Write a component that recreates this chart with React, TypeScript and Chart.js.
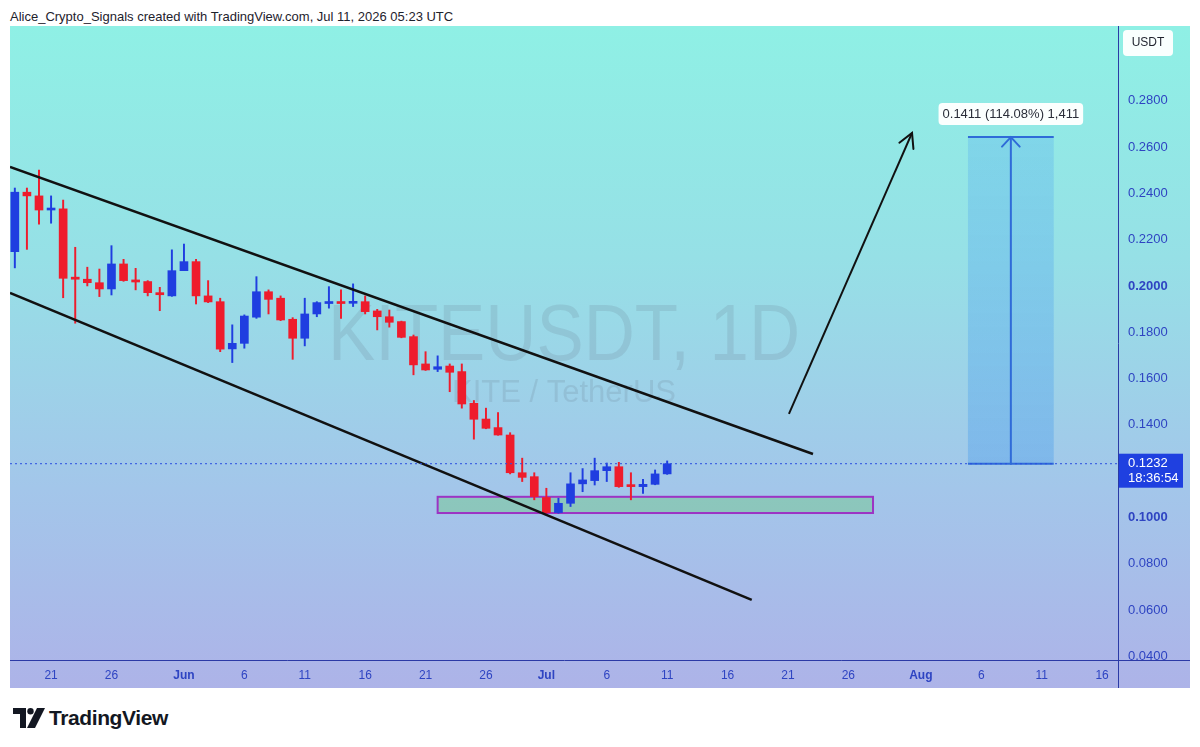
import React, { useEffect, useRef } from 'react';
import { Chart, registerables } from 'chart.js';

Chart.register(...registerables);

const FONT = '"Liberation Sans", Arial, sans-serif';

// Day index: 0 = May 1, 2026
const FIRST_DAY = 17; // May 18
const opens = [0.2148, 0.2405, 0.2389, 0.2328, 0.2333, 0.2038, 0.2029, 0.2014, 0.1987, 0.2095, 0.2026, 0.2019, 0.1971, 0.1957, 0.2066, 0.2105, 0.1957, 0.1932, 0.1728, 0.1752, 0.1865, 0.1975, 0.1947, 0.1856, 0.1774, 0.1879, 0.1924, 0.1932, 0.1925, 0.1932, 0.1892, 0.1867, 0.1846, 0.1781, 0.1663, 0.1640, 0.1654, 0.1630, 0.1493, 0.1425, 0.1388, 0.1356, 0.1193, 0.1176, 0.1086, 0.1021, 0.1061, 0.1145, 0.1159, 0.1202, 0.1219, 0.1139, 0.1133, 0.1143, 0.1188];
const highs = [0.2423, 0.2423, 0.2501, 0.2389, 0.2371, 0.2167, 0.2081, 0.2073, 0.2174, 0.2115, 0.2076, 0.2023, 0.1994, 0.2156, 0.2181, 0.2115, 0.2023, 0.1947, 0.1832, 0.1875, 0.2040, 0.1983, 0.1957, 0.1863, 0.1947, 0.1932, 0.1997, 0.1983, 0.2009, 0.1957, 0.1899, 0.1896, 0.1848, 0.1788, 0.1716, 0.1698, 0.1663, 0.1663, 0.1505, 0.1472, 0.1453, 0.1366, 0.1256, 0.1193, 0.1126, 0.1083, 0.1193, 0.1211, 0.1256, 0.1235, 0.1238, 0.1193, 0.1164, 0.1205, 0.1244];
const lows = [0.2078, 0.2158, 0.2267, 0.2271, 0.1949, 0.1839, 0.2000, 0.1954, 0.1961, 0.2020, 0.1983, 0.1957, 0.1893, 0.1955, 0.2066, 0.1922, 0.1928, 0.1716, 0.1669, 0.1731, 0.1860, 0.1879, 0.1850, 0.1683, 0.1741, 0.1867, 0.1904, 0.1860, 0.1911, 0.1879, 0.1810, 0.1822, 0.1776, 0.1616, 0.1635, 0.1630, 0.1543, 0.1472, 0.1338, 0.1383, 0.1355, 0.1188, 0.1155, 0.1076, 0.1018, 0.1018, 0.1047, 0.1111, 0.1140, 0.1155, 0.1130, 0.1076, 0.1104, 0.1141, 0.1186];
const closes = [0.2405, 0.2389, 0.2328, 0.2335, 0.2033, 0.2029, 0.2014, 0.1987, 0.2095, 0.2023, 0.2017, 0.1971, 0.1962, 0.2066, 0.2105, 0.1957, 0.1931, 0.1727, 0.1752, 0.1870, 0.1975, 0.1942, 0.1853, 0.1774, 0.1879, 0.1928, 0.1932, 0.1924, 0.1932, 0.1889, 0.1867, 0.1843, 0.1778, 0.1659, 0.1637, 0.1651, 0.1627, 0.1490, 0.1424, 0.1385, 0.1356, 0.1193, 0.1173, 0.1090, 0.1021, 0.1061, 0.1145, 0.1162, 0.1202, 0.1219, 0.1133, 0.1133, 0.1143, 0.1188, 0.1232];

const xTickDays = [20, 25, 31, 36, 41, 46, 51, 56, 61, 66, 71, 76, 81, 86, 92, 97, 102, 107];
const xTickLabels = ['21', '26', 'Jun', '6', '11', '16', '21', '26', 'Jul', '6', '11', '16', '21', '26', 'Aug', '6', '11', '16'];
const monthLabels = ['Jun', 'Jul', 'Aug'];
const yTickValues = [0.04, 0.06, 0.08, 0.1, 0.12, 0.14, 0.16, 0.18, 0.2, 0.22, 0.24, 0.26, 0.28];
const boldYTicks = [0.1, 0.2];

const X_MIN = 16.6;
const X_MAX = 108.32;
const Y_MIN = 0.0384;
const Y_MAX = 0.3123;

const upperChannel = [{ x: 16.6, y: 0.2514 }, { x: 83.07, y: 0.1274 }];
const lowerChannel = [{ x: 16.6, y: 0.197 }, { x: 78.0, y: 0.0644 }];
const projectionArrow = [{ x: 81.08, y: 0.1447 }, { x: 91.27, y: 0.2661 }];
const supportZone = { x0: 52.0, x1: 88.04, y0: 0.1019, y1: 0.1089 };
const longPosition = { x0: 95.9, x1: 103.0, entry: 0.1232, target: 0.2643 };
const lastPrice = 0.1232;
const lastPriceText = '0.1232';
const countdownText = '18:36:54';
const targetLabel = '0.1411 (114.08%) 1,411';
const symbolText = 'KITEUSDT, 1D';
const descText = 'KITE / TetherUS';
const currencyText = 'USDT';
const headerText = 'Alice_Crypto_Signals created with TradingView.com, Jul 11, 2026 05:23 UTC';

const BLUE = '#1f3ee0';
const RED = '#ee1c2c';
const AXIS_TEXT = '#2e44c2';
const AXIS_LINE = '#2b3aa6';

function roundRect(ctx: CanvasRenderingContext2D, x: number, y: number, w: number, h: number, r: number) {
  ctx.beginPath();
  ctx.moveTo(x + r, y);
  ctx.lineTo(x + w - r, y);
  ctx.quadraticCurveTo(x + w, y, x + w, y + r);
  ctx.lineTo(x + w, y + h - r);
  ctx.quadraticCurveTo(x + w, y + h, x + w - r, y + h);
  ctx.lineTo(x + r, y + h);
  ctx.quadraticCurveTo(x, y + h, x, y + h - r);
  ctx.lineTo(x, y + r);
  ctx.quadraticCurveTo(x, y, x + r, y);
  ctx.closePath();
}

function arrowHead(ctx: CanvasRenderingContext2D, x0: number, y0: number, x1: number, y1: number, len: number, ang: number) {
  const a = Math.atan2(y1 - y0, x1 - x0);
  ctx.beginPath();
  ctx.moveTo(x1 - len * Math.cos(a - ang), y1 - len * Math.sin(a - ang));
  ctx.lineTo(x1, y1);
  ctx.lineTo(x1 - len * Math.cos(a + ang), y1 - len * Math.sin(a + ang));
  ctx.stroke();
}

export default function App() {
  const ref = useRef<HTMLCanvasElement>(null);

  useEffect(() => {
    const canvas = ref.current;
    if (!canvas) return;
    const candleDays = opens.map((_, i) => FIRST_DAY + i);
    const bodies = candleDays.map((d, i) => ({ x: d, y: [opens[i], closes[i]] }));
    const wicks = candleDays.map((d, i) => ({ x: d, y: [lows[i], highs[i]] }));
    const colors = candleDays.map((_, i) => (closes[i] >= opens[i] ? BLUE : RED));

    const overlay = {
      id: 'overlay',
      beforeDatasetsDraw(chart: any) {
        const { ctx, chartArea: ca, scales } = chart;
        const xs = scales.x;
        const ys = scales.y;
        ctx.save();
        ctx.beginPath();
        ctx.rect(ca.left, ca.top, ca.right - ca.left, ca.bottom - ca.top);
        ctx.clip();
        // watermark
        const cx = (ca.left + ca.right) / 2;
        ctx.fillStyle = 'rgba(95,105,125,0.16)';
        ctx.textAlign = 'center';
        ctx.textBaseline = 'alphabetic';
        ctx.font = `80px ${FONT}`;
        ctx.fillText(symbolText, cx, 334, 472);
        ctx.font = `31px ${FONT}`;
        ctx.fillText(descText, cx, 376, 232);
        // support zone
        const zx0 = xs.getPixelForValue(supportZone.x0);
        const zx1 = xs.getPixelForValue(supportZone.x1);
        const zy0 = ys.getPixelForValue(supportZone.y1);
        const zy1 = ys.getPixelForValue(supportZone.y0);
        ctx.fillStyle = 'rgba(120,200,150,0.55)';
        ctx.fillRect(zx0, zy0, zx1 - zx0, zy1 - zy0);
        ctx.strokeStyle = '#9c34c4';
        ctx.lineWidth = 2;
        ctx.strokeRect(zx0, zy0, zx1 - zx0, zy1 - zy0);
        // long position box
        const lx0 = xs.getPixelForValue(longPosition.x0);
        const lx1 = xs.getPixelForValue(longPosition.x1);
        const ly0 = ys.getPixelForValue(longPosition.target);
        const ly1 = ys.getPixelForValue(longPosition.entry);
        const g = ctx.createLinearGradient(0, ly0, 0, ly1);
        g.addColorStop(0, 'rgba(90,175,240,0.32)');
        g.addColorStop(1, 'rgba(80,160,235,0.42)');
        ctx.fillStyle = g;
        ctx.fillRect(lx0, ly0, lx1 - lx0, ly1 - ly0);
        ctx.strokeStyle = '#2f6bd8';
        ctx.lineWidth = 2;
        ctx.beginPath();
        ctx.moveTo(lx0, ly0);
        ctx.lineTo(lx1, ly0);
        ctx.moveTo(lx0, ly1);
        ctx.lineTo(lx1, ly1);
        ctx.stroke();
        ctx.restore();
      },
      afterDatasetsDraw(chart: any) {
        const { ctx, scales } = chart;
        const xs = scales.x;
        const ys = scales.y;
        ctx.save();
        // projection arrow head
        const ax0 = xs.getPixelForValue(projectionArrow[0].x);
        const ay0 = ys.getPixelForValue(projectionArrow[0].y);
        const ax1 = xs.getPixelForValue(projectionArrow[1].x);
        const ay1 = ys.getPixelForValue(projectionArrow[1].y);
        ctx.strokeStyle = '#111111';
        ctx.lineWidth = 2;
        ctx.lineCap = 'round';
        arrowHead(ctx, ax0, ay0, ax1, ay1, 16, 0.5);
        // long position arrow
        const lx = (xs.getPixelForValue(longPosition.x0) + xs.getPixelForValue(longPosition.x1)) / 2;
        const ly0 = ys.getPixelForValue(longPosition.target);
        const ly1 = ys.getPixelForValue(longPosition.entry);
        ctx.strokeStyle = '#2f6bd8';
        ctx.lineWidth = 2;
        ctx.beginPath();
        ctx.moveTo(lx, ly1);
        ctx.lineTo(lx, ly0);
        ctx.stroke();
        arrowHead(ctx, lx, ly1, lx, ly0, 13, 0.75);
        // target label
        ctx.font = `13px ${FONT}`;
        const tw = ctx.measureText(targetLabel).width + 8;
        ctx.fillStyle = 'rgba(255,255,255,0.96)';
        roundRect(ctx, lx - tw / 2, ly0 - 34, tw, 22, 4);
        ctx.fill();
        ctx.fillStyle = '#2a2e39';
        ctx.textAlign = 'center';
        ctx.textBaseline = 'middle';
        ctx.fillText(targetLabel, lx, ly0 - 23);
        ctx.restore();
      },
      afterDraw(chart: any) {
        const { ctx, chartArea: ca, scales, width, height } = chart;
        const ys = scales.y;
        ctx.save();
        ctx.strokeStyle = AXIS_LINE;
        ctx.lineWidth = 1;
        ctx.beginPath();
        ctx.moveTo(ca.right + 0.5, ca.bottom);
        ctx.lineTo(ca.right + 0.5, height);
        ctx.moveTo(ca.right, ca.bottom + 0.5);
        ctx.lineTo(width, ca.bottom + 0.5);
        ctx.stroke();
        // currency box
        ctx.fillStyle = 'rgba(255,255,255,0.95)';
        roundRect(ctx, ca.right + 5, 4, 50, 26, 4);
        ctx.fill();
        ctx.fillStyle = '#1e222d';
        ctx.font = `12px ${FONT}`;
        ctx.textAlign = 'center';
        ctx.textBaseline = 'middle';
        ctx.fillText(currencyText, ca.right + 30, 17);
        // last price label
        const py = ys.getPixelForValue(lastPrice);
        ctx.fillStyle = '#1f40e0';
        ctx.fillRect(ca.right + 1, py - 10, 64, 34);
        ctx.fillStyle = '#ffffff';
        ctx.textAlign = 'left';
        ctx.font = `13px ${FONT}`;
        ctx.fillText(lastPriceText, ca.right + 10, py);
        ctx.fillText(countdownText, ca.right + 10, py + 15);
        ctx.restore();
      },
    };

    const lineDs = (data: any, color: string, width: number, dash: number[] = []) => ({
      type: 'line',
      data,
      borderColor: color,
      borderWidth: width,
      borderDash: dash,
      pointRadius: 0,
      fill: false,
      tension: 0,
      order: -1,
    });

    const chart = new Chart(canvas, {
      type: 'bar',
      data: {
        datasets: [
          lineDs([{ x: X_MIN, y: lastPrice }, { x: X_MAX, y: lastPrice }], '#2a4fe0', 1, [2, 3]),
          lineDs(upperChannel, '#111111', 2.5),
          lineDs(lowerChannel, '#111111', 2.5),
          lineDs(projectionArrow, '#111111', 2),
          {
            type: 'bar',
            data: bodies,
            backgroundColor: colors,
            borderWidth: 0,
            barThickness: 8,
            minBarLength: 2,
            grouped: false,
            order: 0,
          },
          {
            type: 'bar',
            data: wicks,
            backgroundColor: colors,
            borderWidth: 0,
            barThickness: 1.3,
            grouped: false,
            order: 1,
          },
        ] as any,
      },
      options: {
        animation: false,
        responsive: false,
        maintainAspectRatio: false,
        layout: { padding: 0 },
        plugins: { legend: { display: false }, tooltip: { enabled: false } },
        scales: {
          x: {
            type: 'linear',
            min: X_MIN,
            max: X_MAX,
            offset: false,
            grid: { display: false, drawTicks: false },
            border: { display: true, color: AXIS_LINE, width: 1 },
            afterBuildTicks: (s: any) => {
              s.ticks = xTickDays.map((v) => ({ value: v }));
            },
            afterFit: (s: any) => {
              s.height = 28;
              s.paddingLeft = 0;
              s.paddingRight = 0;
            },
            ticks: {
              autoSkip: false,
              maxRotation: 0,
              padding: 8,
              color: AXIS_TEXT,
              font: (c: any) => {
                const i = xTickDays.indexOf(c.tick?.value);
                const lbl = i >= 0 ? xTickLabels[i] : '';
                return { family: FONT, size: 12, weight: monthLabels.includes(lbl) ? 'bold' : 'normal' };
              },
              callback: (v: any) => {
                const i = xTickDays.indexOf(Number(v));
                return i >= 0 ? xTickLabels[i] : '';
              },
            },
          },
          y: {
            type: 'linear',
            position: 'right',
            min: Y_MIN,
            max: Y_MAX,
            grid: { display: false, drawTicks: false },
            border: { display: true, color: AXIS_LINE, width: 1 },
            afterBuildTicks: (s: any) => {
              s.ticks = yTickValues.map((v) => ({ value: v }));
            },
            afterFit: (s: any) => {
              s.width = 72;
              s.paddingTop = 0;
              s.paddingBottom = 0;
            },
            ticks: {
              padding: 10,
              color: AXIS_TEXT,
              font: (c: any) => {
                const v = c.tick?.value ?? 0;
                const bold = boldYTicks.some((b) => Math.abs(b - v) < 1e-9);
                return { family: FONT, size: 13, weight: bold ? 'bold' : 'normal' };
              },
              callback: (v: any) => Number(v).toFixed(4),
            },
          },
        },
      } as any,
      plugins: [overlay as any],
    });
    return () => chart.destroy();
  }, []);

  return (
    <div
      style={{
        position: 'absolute',
        left: 0,
        top: 0,
        width: 1200,
        height: 747,
        background: '#ffffff',
        fontFamily: FONT,
        overflow: 'hidden',
      }}
    >
      <div style={{ position: 'absolute', left: 10, top: 9, fontSize: 13, lineHeight: '16px', color: '#1e222d' }}>
        {headerText}
      </div>
      <div
        style={{
          position: 'absolute',
          left: 10,
          top: 26,
          width: 1180,
          height: 662,
          background: 'linear-gradient(180deg, #8ff0e5 0%, #96e0e6 35%, #a3c6ea 70%, #adb3e8 100%)',
        }}
      >
        <canvas ref={ref} width={1180} height={662} style={{ display: 'block', width: 1180, height: 662 }} />
      </div>
      <div style={{ position: 'absolute', left: 13, top: 706, display: 'flex', alignItems: 'center' }}>
        <svg width="32" height="20" viewBox="0 0 32 20">
          <path d="M0 0 H13 V20 H7 V6 H0 Z" fill="#131722" />
          <circle cx="17.5" cy="3.2" r="3.2" fill="#131722" />
          <path d="M24 0 H32 L22 20 H14 Z" fill="#131722" />
        </svg>
        <span style={{ marginLeft: 4, fontSize: 21, fontWeight: 'bold', color: '#131722', letterSpacing: -0.4 }}>
          TradingView
        </span>
      </div>
    </div>
  );
}
